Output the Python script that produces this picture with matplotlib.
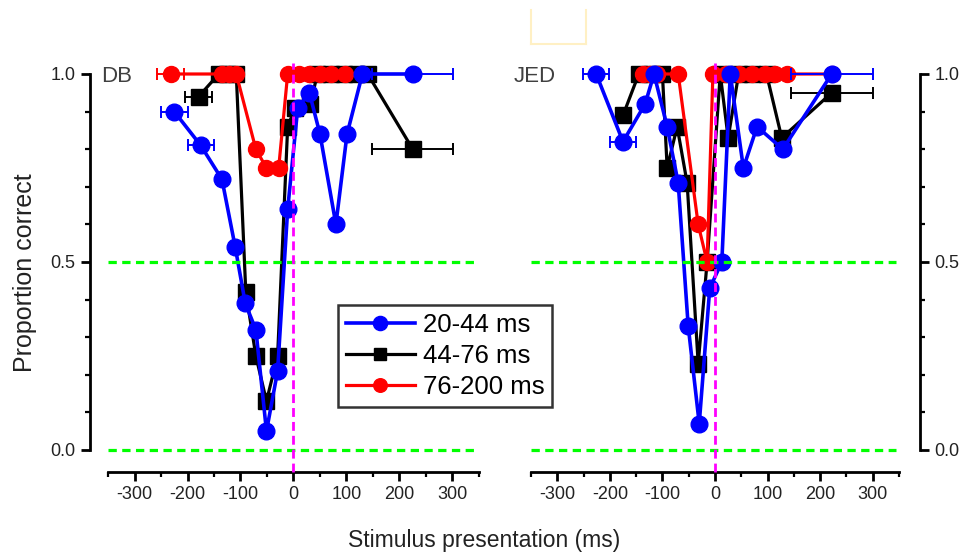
import matplotlib
matplotlib.use('Agg')
import matplotlib.pyplot as plt
from matplotlib.ticker import MultipleLocator, FormatStrFormatter
from matplotlib.lines import Line2D

plt.rcParams['font.family'] = ['Liberation Sans', 'DejaVu Sans']
plt.rcParams['axes.unicode_minus'] = False

# ---- DB (left panel) ----
db_blue_x = [-225, -175, -135, -110, -91, -71, -51, -30, -11, 8, 30, 50, 80, 101, 130, 225]
db_blue_y = [0.90, 0.81, 0.72, 0.54, 0.39, 0.32, 0.05, 0.21, 0.64, 0.91, 0.95, 0.84, 0.60, 0.84, 1.0, 1.0]
db_blue_err = [25, 25, 0, 0, 0, 0, 0, 0, 0, 0, 0, 0, 0, 0, 0, 76]

db_black_x = [-179, -141, -125, -108, -90, -71, -51, -30, -11, 3, 32, 45, 70, 95, 120, 140, 225]
db_black_y = [0.94, 1.0, 1.0, 1.0, 0.42, 0.25, 0.13, 0.25, 0.86, 0.91, 0.92, 1.0, 1.0, 1.0, 1.0, 1.0, 0.80]
db_black_err = [25, 0, 0, 0, 0, 0, 0, 0, 0, 0, 0, 0, 0, 0, 0, 0, 76]

db_red_x = [-232, -135, -121, -108, -71, -51, -28, -11, 10, 30, 50, 70, 97]
db_red_y = [1.0, 1.0, 1.0, 1.0, 0.80, 0.75, 0.75, 1.0, 1.0, 1.0, 1.0, 1.0, 1.0]
db_red_err = [25, 0, 0, 0, 0, 0, 0, 0, 0, 0, 0, 0, 0]

# ---- JED (right panel) ----
jed_blue_x = [-226, -175, -133, -116, -91, -70, -51, -30, -10, 13, 29, 54, 80, 129, 222]
jed_blue_y = [1.0, 0.82, 0.92, 1.0, 0.86, 0.71, 0.33, 0.07, 0.43, 0.50, 1.0, 0.75, 0.86, 0.80, 1.0]
jed_blue_err = [25, 25, 0, 0, 0, 0, 0, 0, 0, 0, 0, 0, 0, 0, 78]

jed_black_x = [-175, -145, -120, -100, -91, -72, -53, -32, -15, 10, 25, 45, 70, 98, 127, 222]
jed_black_y = [0.89, 1.0, 1.0, 1.0, 0.75, 0.86, 0.71, 0.23, 0.50, 1.0, 0.83, 1.0, 1.0, 1.0, 0.83, 0.95]
jed_black_err = [0, 0, 0, 0, 0, 0, 0, 0, 0, 0, 0, 0, 0, 0, 0, 78]

jed_red_x = [-137, -123, -110, -70, -32, -15, -4, 20, 45, 70, 95, 115, 137, 222]
jed_red_y = [1.0, 1.0, 1.0, 1.0, 0.60, 0.50, 1.0, 1.0, 1.0, 1.0, 1.0, 1.0, 1.0, 1.0]
jed_red_err = [0] * 14

series_labels = ['20-44 ms', '44-76 ms', '76-200 ms']
panel_names = ['DB', 'JED']

W, H = 970, 554
fig = plt.figure(figsize=(9.7, 5.54), dpi=100)

y_lo, y_hi = -0.058, 1.05
ax_bottom = 1 - 471.8 / H
ax_height = (471.8 - 55.2) / H
ax1 = fig.add_axes([108 / W, ax_bottom, (479 - 108) / W, ax_height])
ax2 = fig.add_axes([531 / W, ax_bottom, (899 - 531) / W, ax_height])


def draw(ax, data):
    # data: (x, y, err, color, marker, ms, lw, z, label)
    for x, y, err, color, marker, ms, lw, z, lab in data:
        ax.plot(x, y, color=color, lw=lw, marker=marker, ms=ms,
                zorder=z, label=lab)
        idx = [i for i, e in enumerate(err) if e]
        if idx:
            ax.errorbar([x[i] for i in idx], [y[i] for i in idx],
                        xerr=[err[i] for i in idx], fmt='none', ecolor=color,
                        elinewidth=1.4, capsize=4, capthick=1.4, zorder=z - 0.5)
    # reference lines
    for yy in (0.0, 0.5):
        ax.plot([-350, 345], [yy, yy], color='#00ff00', lw=2.3,
                dashes=(2.6, 1.7), zorder=10)
    ax.plot([0, 0], [y_lo, 1.03], color='#ff00ff', lw=2.0,
            dashes=(3.2, 1.8), zorder=11, clip_on=False)

    ax.set_xlim(-350, 350)
    ax.set_ylim(y_lo, y_hi)
    ax.xaxis.set_major_locator(MultipleLocator(100))
    ax.xaxis.set_minor_locator(MultipleLocator(50))
    ax.set_yticks([0, 0.5, 1.0])
    ax.yaxis.set_minor_locator(MultipleLocator(0.1))
    ax.yaxis.set_major_formatter(FormatStrFormatter('%.1f'))
    ax.tick_params(which='major', direction='out', length=6.5, width=2,
                   labelsize=13, colors='black', labelcolor='#222222', pad=4)
    ax.tick_params(which='minor', direction='out', length=3.5, width=1.6)
    ax.spines['top'].set_visible(False)
    ax.spines['bottom'].set_linewidth(2)
    ax.patch.set_alpha(0)


draw(ax1, [
    (db_black_x, db_black_y, db_black_err, 'black', 's', 11, 2.3, 3, series_labels[1]),
    (db_red_x, db_red_y, db_red_err, 'red', 'o', 11.5, 2.3, 4, series_labels[2]),
    (db_blue_x, db_blue_y, db_blue_err, 'blue', 'o', 12, 2.6, 5, series_labels[0]),
])
draw(ax2, [
    (jed_black_x, jed_black_y, jed_black_err, 'black', 's', 11, 2.3, 3, series_labels[1]),
    (jed_red_x, jed_red_y, jed_red_err, 'red', 'o', 11.5, 2.3, 4, series_labels[2]),
    (jed_blue_x, jed_blue_y, jed_blue_err, 'blue', 'o', 12, 2.6, 5, series_labels[0]),
])

ax1.spines['right'].set_visible(False)
ax1.spines['left'].set_position(('outward', 13))
ax1.spines['left'].set_bounds(0, 1)
ax1.spines['left'].set_linewidth(2)

ax2.spines['left'].set_visible(False)
ax2.spines['right'].set_position(('outward', 15))
ax2.spines['right'].set_bounds(0, 1)
ax2.spines['right'].set_linewidth(2)
ax2.yaxis.tick_right()

fig.text(101 / W, 1 - 76 / H, panel_names[0], fontsize=16, color='#404040', va='center')
fig.text(514 / W, 1 - 76 / H, panel_names[1], fontsize=16, color='#404040', va='center')

fig.text(25 / W, 1 - 273 / H, 'Proportion correct', rotation=90, fontsize=18,
         color='#222222', ha='center', va='center')
fig.text(484 / W, 1 - 540 / H, 'Stimulus presentation (ms)', fontsize=16.5,
         color='#222222', ha='center', va='center')

# legend: blue, black, red
h = {l.get_label(): l for l in ax1.get_lines() if l.get_label() in series_labels}
leg = ax1.legend([h[s] for s in series_labels], series_labels,
                 loc='upper left', bbox_to_anchor=(338 / W, 1 - 305 / H),
                 bbox_transform=fig.transFigure, fontsize=18.5, frameon=True,
                 fancybox=False, edgecolor='black', handlelength=2.7,
                 borderpad=0.3, labelspacing=0.28, handletextpad=0.3,
                 borderaxespad=0, markerscale=0.85)
leg.get_frame().set_linewidth(1.8)
leg.set_zorder(20)

# faint box at top
for xs, ys in (([531, 531], [10, 44]), ([586, 586], [10, 44]), ([531, 586], [44, 44])):
    fig.add_artist(Line2D([x / W for x in xs], [1 - y / H for y in ys],
                          color='#fff0c4', lw=1.5))

fig.savefig('out.png', dpi=100)
